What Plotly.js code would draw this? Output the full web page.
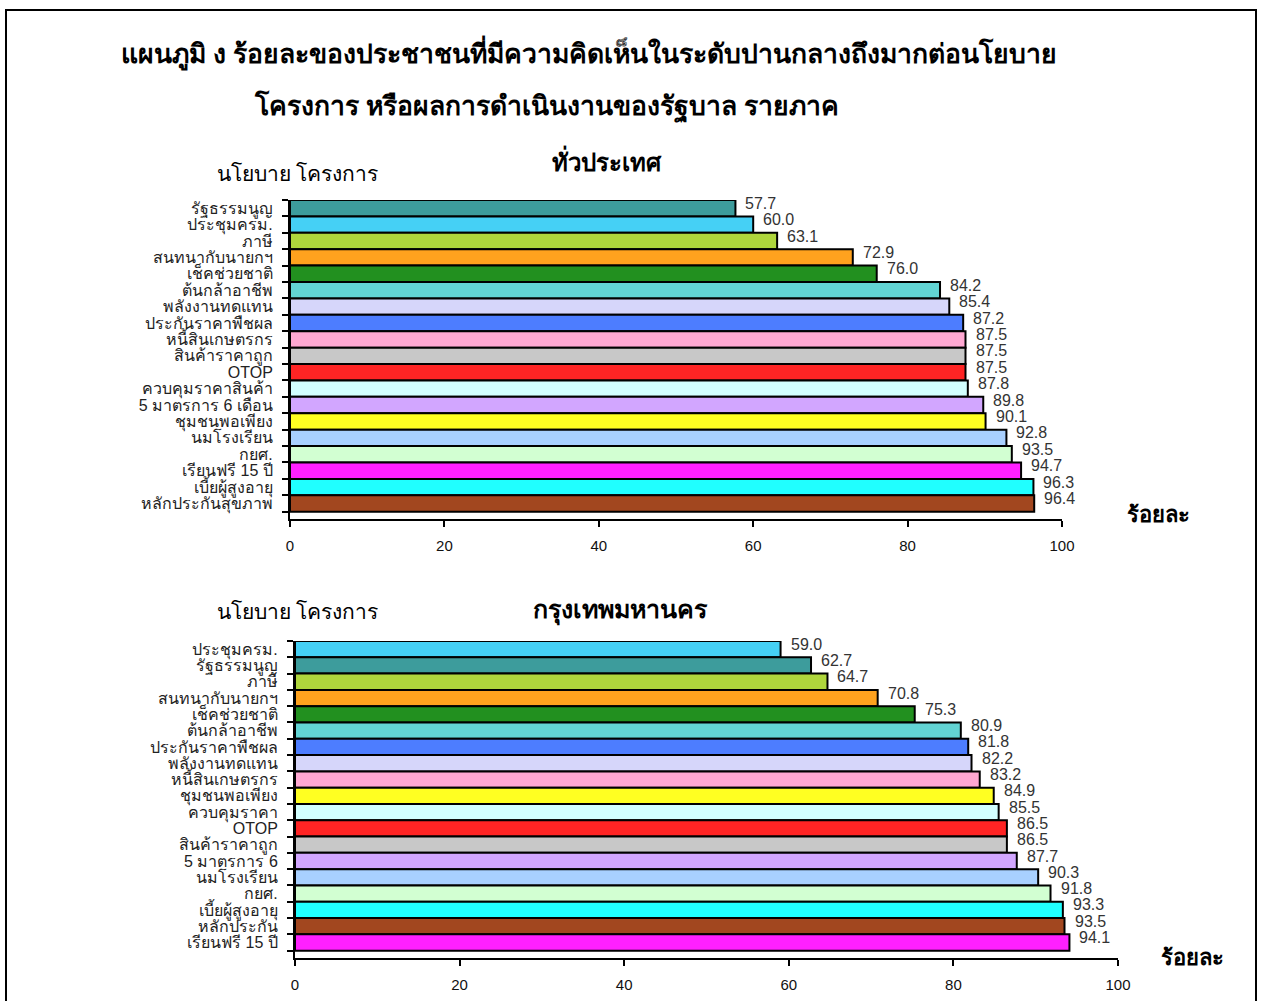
<!DOCTYPE html>
<html>
<head>
<meta charset="utf-8">
<script src="https://cdn.plot.ly/plotly-3.0.1.min.js"></script>
<style>
html,body{margin:0;padding:0;background:#fff;}
#chart{width:1261px;height:1001px;}
</style>
</head>
<body>
<div id="chart"></div>
<script>
// ---- Data: whole country (ทั่วประเทศ), top to bottom ----
const countryCategories = ["รัฐธรรมนูญ","ประชุมครม.","ภาษี","สนทนากับนายกฯ","เช็คช่วยชาติ","ต้นกล้าอาชีพ","พลังงานทดแทน","ประกันราคาพืชผล","หนี้สินเกษตรกร","สินค้าราคาถูก","OTOP","ควบคุมราคาสินค้า","5 มาตรการ 6 เดือน","ชุมชนพอเพียง","นมโรงเรียน","กยศ.","เรียนฟรี 15 ปี","เบี้ยผู้สูงอายุ","หลักประกันสุขภาพ"];
const countryValues = [57.7,60.0,63.1,72.9,76.0,84.2,85.4,87.2,87.5,87.5,87.5,87.8,89.8,90.1,92.8,93.5,94.7,96.3,96.4];
const countryColors = ["#3d9c9c","#45d0f5","#afd63c","#ffa21e","#22901f","#62d4d4","#d6d6fa","#4d7dff","#ffa8d2","#c8c8c8","#ff2424","#d2ffff","#d2a6ff","#ffff22","#a8d0ff","#d2ffd2","#ff20ff","#20ffff","#a2471f"];

// ---- Data: Bangkok (กรุงเทพมหานคร), top to bottom ----
const bkkCategories = ["ประชุมครม.","รัฐธรรมนูญ","ภาษี","สนทนากับนายกฯ","เช็คช่วยชาติ","ต้นกล้าอาชีพ","ประกันราคาพืชผล","พลังงานทดแทน","หนี้สินเกษตรกร","ชุมชนพอเพียง","ควบคุมราคา","OTOP","สินค้าราคาถูก","5 มาตรการ 6","นมโรงเรียน","กยศ.","เบี้ยผู้สูงอายุ","หลักประกัน","เรียนฟรี 15 ปี"];
const bkkValues = [59.0,62.7,64.7,70.8,75.3,80.9,81.8,82.2,83.2,84.9,85.5,86.5,86.5,87.7,90.3,91.8,93.3,93.5,94.1];
const bkkColors = ["#45d0f5","#3d9c9c","#afd63c","#ffa21e","#22901f","#62d4d4","#4d7dff","#d6d6fa","#ffa8d2","#ffff22","#d2ffff","#ff2424","#c8c8c8","#d2a6ff","#a8d0ff","#d2ffd2","#20ffff","#a2471f","#ff20ff"];

const xTicks = [0,20,40,60,80,100];

const mainTitle1 = "แผนภูมิ ง ร้อยละของประชาชนที่มีความคิดเห็นในระดับปานกลางถึงมากต่อนโยบาย";
const mainTitle2 = "โครงการ หรือผลการดำเนินงานของรัฐบาล รายภาค";
const panelTitles = ["ทั่วประเทศ","กรุงเทพมหานคร"];
const yAxisLabel = "นโยบาย โครงการ";
const xAxisLabel = "ร้อยละ";

const W = 1261, H = 1001;
const px = v => v / W;
const py = v => 1 - v / H;

const labelFont = {family:"Liberation Sans, Noto Sans, sans-serif", size:16, color:"#333"};
const catFont = {family:"Liberation Sans, Noto Sans, sans-serif", size:16, color:"#222"};
const tickFont = {family:"Liberation Sans, sans-serif", size:15, color:"#111"};
const thaiBold = {family:"Noto Sans, Liberation Sans, sans-serif", size:26.5, color:"#000", weight:"bold"};

const traces = [
  {type:"bar", orientation:"h", x:countryValues, y:countryCategories, xaxis:"x", yaxis:"y",
   marker:{color:countryColors, line:{color:"#000", width:2}}, hoverinfo:"x+y", showlegend:false},
  {type:"bar", orientation:"h", x:bkkValues, y:bkkCategories, xaxis:"x2", yaxis:"y2",
   marker:{color:bkkColors, line:{color:"#000", width:2}}, hoverinfo:"x+y", showlegend:false}
];

const annotations = [];
countryValues.forEach((v,i)=>annotations.push({x:v, y:countryCategories[i], xref:"x", yref:"y", text:v.toFixed(1),
  showarrow:false, xanchor:"left", yanchor:"middle", xshift:8, yshift:5, font:labelFont}));
bkkValues.forEach((v,i)=>annotations.push({x:v, y:bkkCategories[i], xref:"x2", yref:"y2", text:v.toFixed(1),
  showarrow:false, xanchor:"left", yanchor:"middle", xshift:8, yshift:5, font:labelFont}));

function txt(text, x, y, font){
  annotations.push({text:text, x:px(x), y:py(y), xref:"paper", yref:"paper", showarrow:false,
    xanchor:"center", yanchor:"middle", font:font});
}
txt(mainTitle1, 589, 53, thaiBold);
txt(mainTitle2, 546, 106, thaiBold);
txt(panelTitles[0], 607, 162, Object.assign({}, thaiBold, {size:24}));
txt(panelTitles[1], 620, 608, Object.assign({}, thaiBold, {size:25}));
txt(yAxisLabel, 297, 173, {family:"Noto Sans, sans-serif", size:21, color:"#000"});
txt(yAxisLabel, 297, 611, {family:"Noto Sans, sans-serif", size:21, color:"#000"});
txt(xAxisLabel, 1158, 513, Object.assign({}, thaiBold, {size:22}));
txt(xAxisLabel, 1192, 956, Object.assign({}, thaiBold, {size:22}));

const xBase = {range:[0,100], tickvals:xTicks, ticktext:xTicks.map(String), showgrid:false, zeroline:false,
  showline:true, linecolor:"#000", linewidth:2, ticks:"outside", ticklen:6, tickwidth:2, tickcolor:"#000",
  tickfont:tickFont, ticklabelstandoff:6, fixedrange:true};
const yBase = {type:"category", autorange:"reversed", showgrid:false, zeroline:false, showline:true,
  linecolor:"#000", linewidth:2, ticks:"outside", ticklen:6, tickwidth:2, tickcolor:"#000",
  tickson:"boundaries", tickfont:catFont, ticklabelstandoff:12, fixedrange:true};

const layout = {
  width:W, height:H, margin:{l:0,r:0,t:0,b:0}, paper_bgcolor:"#fff", plot_bgcolor:"#fff",
  bargap:0, showlegend:false,
  xaxis:Object.assign({}, xBase, {domain:[px(290), px(1062)], anchor:"y"}),
  yaxis:Object.assign({}, yBase, {domain:[py(519), py(200)], anchor:"x",
    tickmode:"array", tickvals:countryCategories, ticktext:countryCategories}),
  xaxis2:Object.assign({}, xBase, {domain:[px(295), px(1118)], anchor:"y2"}),
  yaxis2:Object.assign({}, yBase, {domain:[py(958), py(641)], anchor:"x2",
    tickmode:"array", tickvals:bkkCategories, ticktext:bkkCategories}),
  annotations:annotations,
  shapes:[{type:"rect", xref:"paper", yref:"paper", x0:px(6), x1:px(1256), y0:-0.02, y1:py(10),
    line:{color:"#000", width:2}, fillcolor:"rgba(0,0,0,0)"}]
};

Plotly.newPlot("chart", traces, layout, {displayModeBar:false, staticPlot:true});
</script>
</body>
</html>
